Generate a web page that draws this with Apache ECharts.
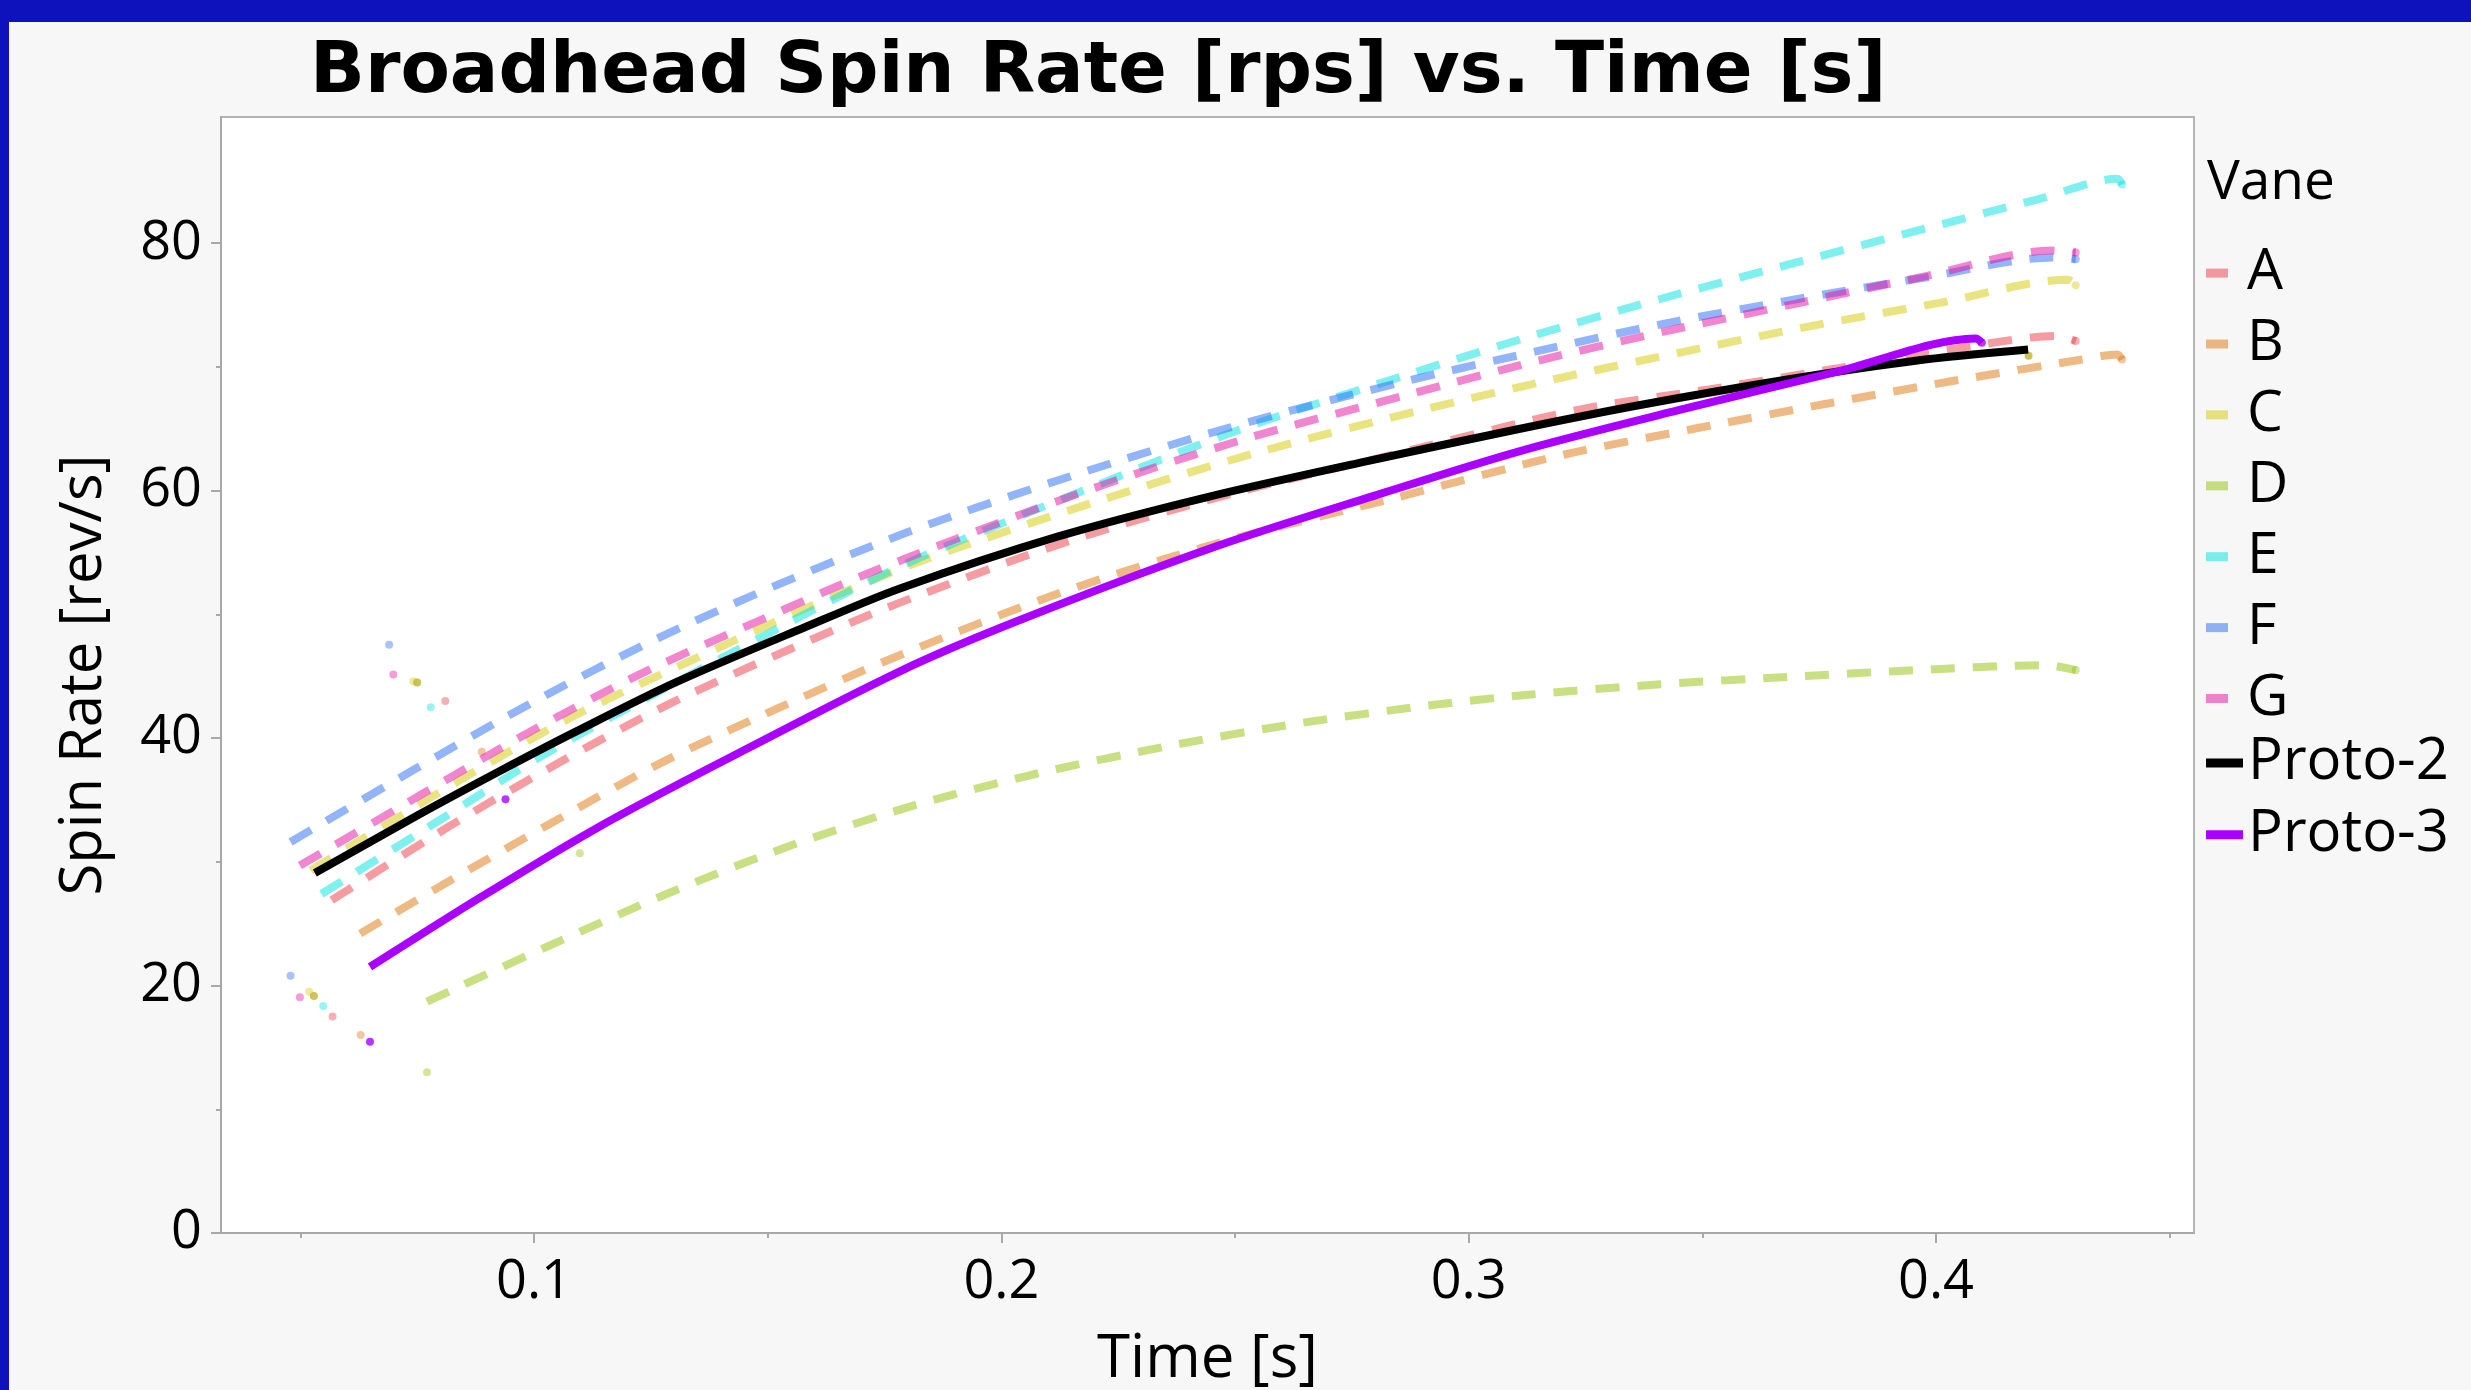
<!DOCTYPE html>
<html>
<head>
<meta charset="utf-8">
<script src="https://cdn.jsdelivr.net/npm/echarts@6/dist/echarts.min.js"></script>
<style>
html,body{margin:0;padding:0;background:#f7f7f7;}
#chart{width:2471px;height:1390px;}
</style>
</head>
<body>
<div id="chart"></div>
<script>
// ---------- data ----------
const vaneNames = ['A','B','C','D','E','F','G','Proto-2','Proto-3'];

const tA = [0.0567,0.082,0.1053,0.1294,0.1548,0.1783,0.2151,0.2507,0.2782,0.3237,0.3517,0.3791,0.407,0.4257,0.4299];
const yA = [26.9,32.9,38.0,42.85,47.2,50.95,56.0,59.9,62.4,66.55,68.2,69.9,71.65,72.5,72.1];

const tB = [0.0628,0.0803,0.104,0.1277,0.1527,0.1776,0.213,0.2486,0.2841,0.3203,0.3482,0.3762,0.4041,0.4312,0.4388,0.4398];
const yB = [24.2,28.1,33.2,38.1,42.5,46.6,51.8,56.0,59.4,62.9,65.0,67.0,68.9,70.6,71.0,70.6];

const tC = [0.0522,0.0846,0.1083,0.1332,0.1582,0.1834,0.2194,0.2549,0.2909,0.3182,0.3457,0.3732,0.4011,0.4282,0.4299];
const yC = [29.3,36.7,41.75,46.2,50.5,54.4,59.0,63.1,66.6,69.0,71.2,73.3,75.2,77.05,76.6];

const tD = [0.0771,0.104,0.129,0.1548,0.1817,0.2084,0.2363,0.2638,0.2917,0.3127,0.341,0.3685,0.3961,0.4235,0.4299];
const yD = [18.7,23.35,27.5,31.3,34.6,37.2,39.4,41.2,42.65,43.5,44.35,44.95,45.5,45.9,45.5];

const tE = [0.0545,0.0795,0.1023,0.1264,0.1666,0.1826,0.2172,0.2515,0.2871,0.3135,0.3406,0.3677,0.3948,0.4218,0.4388,0.4398];
const yE = [27.4,33.3,38.7,43.7,51.7,54.6,59.95,65.0,69.4,72.5,75.45,78.2,80.9,83.55,85.2,84.75];

const tF = [0.0479,0.075,0.1,0.125,0.15,0.18,0.2151,0.2507,0.2871,0.3144,0.3419,0.3698,0.3973,0.4252,0.4299];
const yF = [31.6,37.6,42.95,47.8,52.05,56.65,61.2,65.3,68.9,71.25,73.5,75.45,77.2,78.85,78.7];

const tG = [0.0499,0.0748,0.0981,0.1226,0.1476,0.173,0.2164,0.2519,0.2879,0.3148,0.3423,0.3698,0.3973,0.4248,0.4299];
const yG = [29.7,35.2,40.3,45.15,49.4,53.55,59.75,64.15,67.85,70.5,72.9,75.1,77.3,79.4,79.25];

const tP2 = [0.0531,0.0753,0.093,0.1083,0.1303,0.1582,0.1783,0.2122,0.2443,0.2773,0.311,0.3364,0.3685,0.3956,0.4197];
const yP2 = [29.1,33.8,37.4,40.4,44.5,49.0,52.1,56.3,59.5,62.3,65.0,66.9,69.0,70.5,71.4];

const tP3 = [0.0649,0.088,0.1133,0.1387,0.1783,0.2037,0.246,0.2799,0.311,0.3449,0.3787,0.4085,0.4098];
const yP3 = [21.5,27.0,32.7,37.8,45.4,49.5,55.5,59.6,63.2,66.5,69.6,72.3,71.95];

// raw measured points that show up as dots
const dotTA = [0.0569,0.0810,0.4299], dotYA = [17.5,43.0,72.1];
const dotTB = [0.0629,0.0888,0.4398], dotYB = [16.0,38.9,70.6];
const dotTC = [0.0519,0.0742,0.4299], dotYC = [19.5,44.6,76.6];
const dotTD = [0.0771,0.1098,0.4299], dotYD = [13.0,30.7,45.5];
const dotTE = [0.0549,0.0779,0.4398], dotYE = [18.35,42.5,84.75];
const dotTF = [0.0479,0.0690,0.4299], dotYF = [20.8,47.55,78.7];
const dotTG = [0.0499,0.0699,0.4299], dotYG = [19.05,45.15,79.25];
const dotTP2 = [0.0529,0.0750,0.4198], dotYP2 = [19.15,44.5,70.9];
const dotTP3 = [0.0649,0.0939,0.4098], dotYP3 = [15.45,35.05,71.95];

const xMajorTicks = [0.1,0.2,0.3,0.4];
const xMinorTicks = [0.05,0.15,0.25,0.35,0.45];
const yMajorTicks = [0,20,40,60,80];
const yMinorTicks = [10,30,50,70];

// ---------- styles ----------
const FONT = 'Open Sans';
const lineT = [tA,tB,tC,tD,tE,tF,tG,tP2,tP3];
const lineY = [yA,yB,yC,yD,yE,yF,yG,yP2,yP3];
const dotT = [dotTA,dotTB,dotTC,dotTD,dotTE,dotTF,dotTG,dotTP2,dotTP3];
const dotY = [dotYA,dotYB,dotYC,dotYD,dotYE,dotYF,dotYG,dotYP2,dotYP3];
const lineColors = [
  'rgba(235,55,67,0.5)','rgba(223,115,9,0.5)','rgba(211,201,0,0.5)','rgba(145,191,5,0.5)',
  'rgba(0,225,225,0.5)','rgba(37,105,245,0.5)','rgba(227,11,159,0.5)','#000000','#aa00ff'
];
const dotColors = [
  'rgba(235,55,67,0.5)','rgba(223,115,9,0.5)','rgba(211,201,0,0.5)','rgba(145,191,5,0.5)',
  'rgba(0,225,225,0.5)','rgba(37,105,245,0.5)','rgba(227,11,159,0.5)','#c0b52e','#aa00ff'
];
const AX = '#a8a8a8';

const series = [];
vaneNames.forEach((n, i) => {
  const solid = i >= 7;
  series.push({
    name: n, type: 'line',
    data: lineT[i].map((t, k) => [t, lineY[i][k]]),
    showSymbol: false, symbol: 'none',
    smooth: 0.3,
    color: lineColors[i],
    lineStyle: { width: 8, type: solid ? 'solid' : [24, 18], color: lineColors[i], cap: 'butt' },
    z: 3, silent: true, animation: false
  });
});
vaneNames.forEach((n, i) => {
  series.push({
    name: n, type: 'scatter',
    data: dotT[i].map((t, k) => [t, dotY[i][k]]),
    symbolSize: 8,
    itemStyle: { color: dotColors[i] },
    z: 2, silent: true, animation: false
  });
});

const XMIN = 0.03302, XMAX = 0.4552, YMIN = 0, YMAX = 90.2;

const option = {
  backgroundColor: '#f7f7f7',
  animation: false,
  title: {
    text: 'Broadhead Spin Rate [rps] vs. Time [s]',
    left: 310, top: 37, padding: 0,
    textStyle: { fontFamily: 'DejaVu Sans', fontWeight: 'bold', fontSize: 72, color: '#000' }
  },
  graphic: [
    { type: 'rect', shape: { x: 0, y: 0, width: 2471, height: 22 }, style: { fill: '#0e12bc' }, silent: true },
    { type: 'rect', shape: { x: 0, y: 0, width: 9, height: 1390 }, style: { fill: '#0e12bc' }, silent: true },
    { type: 'text', x: 2207, y: 183, style: { text: 'Vane', fontFamily: FONT, fontSize: 55, fill: '#000', align: 'left', verticalAlign: 'middle' }, silent: true }
  ],
  legend: [
    {
      data: ['A','B','C','D','E','F','G'].map(n => ({ name: n, icon: 'rect' })),
      orient: 'vertical', left: 2206, top: 244.6, padding: 0,
      itemWidth: 22, itemHeight: 9, itemGap: 13.9,
      itemStyle: { borderWidth: 0 },
      selectedMode: false,
      textStyle: { fontFamily: FONT, fontSize: 57, lineHeight: 56, color: '#000', padding: [0, 0, 0, 14] }
    },
    {
      data: ['Proto-2','Proto-3'].map(n => ({ name: n, icon: 'rect' })),
      orient: 'vertical', left: 2206, top: 733.9, padding: 0,
      itemWidth: 37, itemHeight: 9, itemGap: 13.9,
      itemStyle: { borderWidth: 0 },
      selectedMode: false,
      textStyle: { fontFamily: FONT, fontSize: 58, lineHeight: 56, color: '#000' }
    }
  ],
  grid: {
    left: 221, top: 117, width: 1973, height: 1116,
    outerBoundsMode: 'none', containLabel: false,
    show: true, backgroundColor: '#ffffff', borderColor: '#b4b4b4', borderWidth: 2
  },
  xAxis: [
    {
      type: 'value', min: XMIN, max: XMAX, position: 'bottom',
      axisLine: { show: true, onZero: false, lineStyle: { color: AX, width: 2 } },
      axisTick: { show: true, length: 10, customValues: xMajorTicks, lineStyle: { color: AX, width: 2 } },
      axisLabel: { customValues: xMajorTicks, fontFamily: FONT, fontSize: 54, color: '#000', margin: 23 },
      splitLine: { show: false },
      name: 'Time [s]', nameLocation: 'middle', nameGap: 97,
      nameTextStyle: { fontFamily: FONT, fontSize: 60, color: '#000' }
    },
    {
      type: 'value', min: XMIN, max: XMAX, position: 'bottom',
      axisLine: { show: false, onZero: false },
      axisTick: { show: true, length: 5, customValues: xMinorTicks, lineStyle: { color: AX, width: 2 } },
      axisLabel: { show: false },
      splitLine: { show: false }
    }
  ],
  yAxis: [
    {
      type: 'value', min: YMIN, max: YMAX, position: 'left',
      axisLine: { show: true, onZero: false, lineStyle: { color: AX, width: 2 } },
      axisTick: { show: true, length: 10, customValues: yMajorTicks, lineStyle: { color: AX, width: 2 } },
      axisLabel: { customValues: yMajorTicks, fontFamily: FONT, fontSize: 54, color: '#000', margin: 19 },
      splitLine: { show: false },
      name: 'Spin Rate [rev/s]', nameLocation: 'middle', nameGap: 108,
      nameTextStyle: { fontFamily: FONT, fontSize: 58, color: '#000' }
    },
    {
      type: 'value', min: YMIN, max: YMAX, position: 'left',
      axisLine: { show: false, onZero: false },
      axisTick: { show: true, length: 5, customValues: yMinorTicks, lineStyle: { color: AX, width: 2 } },
      axisLabel: { show: false },
      splitLine: { show: false }
    }
  ],
  series: series
};

const chart = echarts.init(document.getElementById('chart'), null, { renderer: 'canvas' });
chart.setOption(option);
</script>
</body>
</html>
